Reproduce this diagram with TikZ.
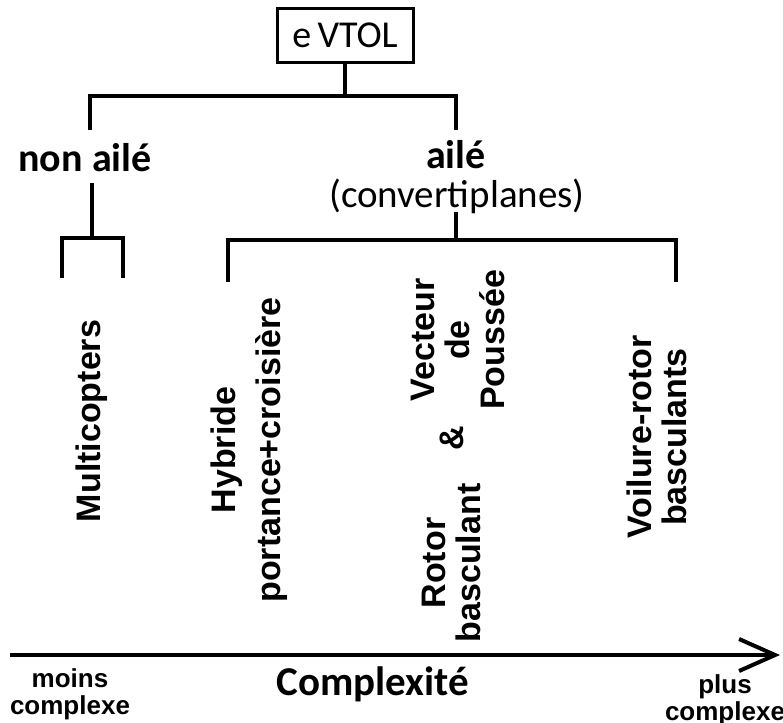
\documentclass[tikz,border=0pt]{standalone}
\usepackage{fontspec}
\newfontfamily\calibri{Carlito}
\newfontfamily\arial{Liberation Sans}
\usetikzlibrary{arrows.meta,positioning}

\begin{document}
\begin{tikzpicture}[
  x=0.5pt, y=-0.5pt,
  >={Straight Barb[length=18pt,width=16pt]},
  tree/.style={line width=2pt},
  head/.style={inner sep=0pt, font=\calibri\bfseries\fontsize{20}{24}\selectfont},
  cat/.style={rotate=90, align=center, inner sep=0pt, font=\arial\bfseries\fontsize{17}{17.5}\selectfont},
  ends/.style={align=center, inner sep=0pt, font=\arial\bfseries\fontsize{13}{13.5}\selectfont},
]
\useasboundingbox (0,0) rectangle (783,723);

% root and first split
\node[draw, line width=1.5pt, minimum width=68pt, minimum height=27pt, inner sep=0pt,
      font=\calibri\fontsize{19}{23}\selectfont] (evtol) at (345,35) {e\,VTOL};
\node[head] (nonaile) at (85,158) {non ailé};
\node[head] (aile) at (456,155) {ailé};
\node[head, font=\calibri\fontsize{19.5}{23}\selectfont] (conv) at (457,196) {(convertiplanes)};

\coordinate (split) at (346,96);
\coordinate (nonaile-in) at (90,130);
\coordinate (aile-in) at (456,130);
\draw[tree] (evtol.south) -- (evtol.south |- split);
\draw[tree] (nonaile-in) |- (split) -| (aile-in);

% non aile branch
\node[cat] (multi) at (92,421) {Multicopters};
\coordinate (nonaile-out) at (92,183);
\coordinate (mc-fork) at (92,238);
\coordinate (mc-l) at (62,278);
\coordinate (mc-r) at (123,278);
\draw[tree] (nonaile-out) -- (mc-fork);
\draw[tree] (mc-l) |- (mc-fork) -| (mc-r);

% aile branch
\node[cat] (hyb) at (249,450) {Hybride\\[5pt]portance+croisière};
\node[cat] (vect) at (458,340) {Vecteur\\de\\Poussée};
\node[cat] (amp) at (452,438) {\&};
\node[cat] (rotor) at (451,563) {Rotor\\basculant};
\node[cat] (voil) at (657,437) {Voilure-rotor\\basculants};
\coordinate (conv-out) at (456,212);
\coordinate (wing-fork) at (456,240);
\coordinate (hyb-top) at (228,282);
\coordinate (voil-top) at (676,282);
\draw[tree] (conv-out) -- (wing-fork);
\draw[tree] (hyb-top) |- (wing-fork) -| (voil-top);

% complexity axis
\coordinate (ax-start) at (10,655);
\coordinate (ax-end) at (780,655);
\draw[tree,->] (ax-start) -- (ax-end);
\node[ends] (less) at (70,694) {moins\\complexe};
\node[inner sep=0pt, font=\calibri\bfseries\fontsize{20.5}{24}\selectfont] (cplx) at (373,684) {Complexité};
\node[ends] (more) at (725,700) {plus\\complexe};
\end{tikzpicture}
\end{document}
